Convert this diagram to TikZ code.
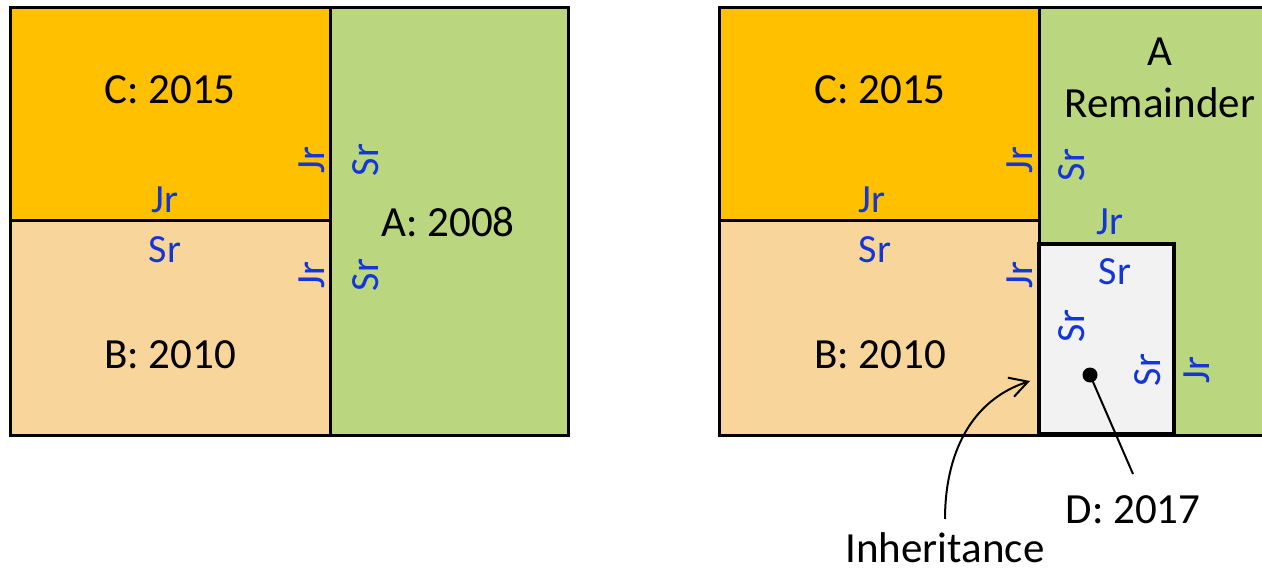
\documentclass[tikz,border=0pt]{standalone}
\usepackage{fontspec}
\setmainfont{Carlito}
\usetikzlibrary{arrows.meta}
\definecolor{cOr}{HTML}{FFC000}
\definecolor{cLo}{HTML}{F8D59B}
\definecolor{cGr}{HTML}{BAD77F}
\definecolor{cGy}{HTML}{F2F2F2}
\definecolor{cBl}{HTML}{1436D6}
\begin{document}
\begin{tikzpicture}[x=0.5bp,y=-0.5bp,
 big/.style={font=\fontsize{21.5bp}{26bp}\selectfont, inner sep=0},
 lab/.style={font=\fontsize{20bp}{22bp}\selectfont, text=cBl, inner sep=0},
 vlab/.style={lab, rotate=90},
 edge/.style={line width=1.5bp},
 thin/.style={line width=1bp}]
\useasboundingbox (0,0) rectangle (1262,571);
\clip (0,0) rectangle (1262,571);
% ---------- left panel ----------
\fill[cGr] (330,8) rectangle (568,435);
\fill[cOr] (10,8) rectangle (330,221);
\fill[cLo] (10,221) rectangle (330,435);
\draw[edge] (10,8) rectangle (568,435);
\draw[edge] (330,8) -- (330,435);
\draw[edge] (10,221) -- (330,221);
\node[big] (lc) at (170,90) {C: 2015};
\node[big] (lb) at (170,355) {B: 2010};
\node[big] (la) at (448,222) {A: 2008};
\node[lab] (ljr1) at (165,200) {Jr};
\node[lab] (lsr1) at (165,250) {Sr};
\node[vlab] (ljr2) at (312,160) {Jr};
\node[vlab] (ljr3) at (312,275) {Jr};
\node[vlab] (lsr2) at (366,160) {Sr};
\node[vlab] (lsr3) at (366,275) {Sr};
% ---------- right panel ----------
\fill[cGr] (1039,8) rectangle (1270,435);
\fill[cOr] (719,8) rectangle (1039,221);
\fill[cLo] (719,221) rectangle (1039,435);
\draw[edge] (1270,8) -- (719,8) -- (719,435) -- (1270,435);
\draw[edge] (1039,8) -- (1039,435);
\draw[edge] (719,221) -- (1039,221);
\draw[line width=2bp, fill=cGy] (1039,244) rectangle (1174,434);
\node[big] (rc) at (880,90) {C: 2015};
\node[big] (rb) at (880,355) {B: 2010};
\node[big, align=center] (ra) at (1160,78) {A\\Remainder};
\node[lab] (rjr1) at (872,200) {Jr};
\node[lab] (rsr1) at (875,250) {Sr};
\node[vlab] (rjr2) at (1020,160) {Jr};
\node[vlab] (rjr3) at (1020,275) {Jr};
\node[vlab] (rsr2) at (1072,165) {Sr};
\node[lab] (rjr4) at (1110,222) {Jr};
\node[lab] (rsr3) at (1115,272) {Sr};
\node[vlab] (rsr4) at (1072,326) {Sr};
\node[vlab] (rsr5) at (1148,370) {Sr};
\node[vlab] (rjr5) at (1197,370) {Jr};
% D marker
\node[circle, fill=black, inner sep=0, minimum size=7.5bp] (dot) at (1090,375) {};
\node[big] (d) at (1133,510) {D: 2017};
\coordinate (dEnd) at (1133,474);
\draw[thin] (dot.center) -- (dEnd);
% inheritance arrow
\node[big] (inh) at (945,548) {Inheritance};
\coordinate (inhS) at (945,519);
\coordinate (inhE) at (1030,381);
\draw[thin, -{Straight Barb[length=9bp,width=10bp]}] (inhS) to[out=90,in=198] (inhE);
\end{tikzpicture}
\end{document}
